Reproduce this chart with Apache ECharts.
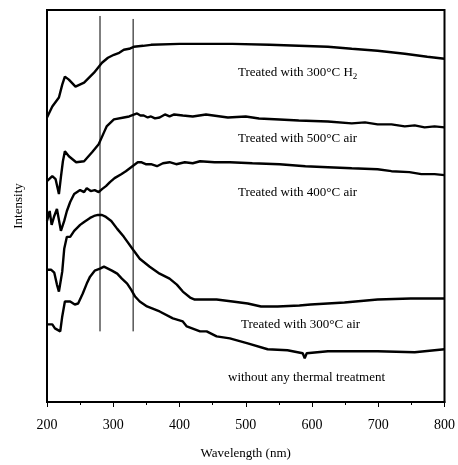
<!DOCTYPE html>
<html>
<head>
<meta charset="utf-8">
<script src="https://cdn.jsdelivr.net/npm/echarts@6/dist/echarts.min.js"></script>
<style>
html,body{margin:0;padding:0;background:#fff;}
#c{width:458px;height:465px;}
</style>
</head>
<body>
<div id="c"></div>
<script>
// Wavelength (nm) vs intensity (arbitrary units, offset stacked curves)
const xTicks = [200, 300, 400, 500, 600, 700, 800];

const h2_300 = [[200,286],[208,297],[218,306],[223,319],[227,327],[233,324],[243,317],[256,321],[271,331],[283,341],[292,346],[301,349],[309,351],[316,354],[324,355],[331,357],[345,358],[357,359],[400,360],[430,360],[480,360],[536,359],[580,358],[624,357],[660,355],[699,353],[740,350],[774,347],[800,345]];

const air_500 = [[200,222],[208,227],[213,224],[218,209],[221,226],[224,242],[227,252],[233,247],[244,241],[256,242],[268,251],[278,259],[286,271],[290,277],[301,284],[316,286],[324,287],[336,290],[341,288],[346,288],[352,286],[357,287],[363,285],[370,286],[378,289],[385,287],[392,289],[405,288],[420,287],[440,289],[473,286],[500,287],[520,285],[551,284],[580,283],[624,282],[660,280],[680,281],[699,279],[720,279],[740,277],[755,278],[770,276],[785,277],[800,276]];

const air_400 = [[200,182],[204,192],[207,178],[211,187],[215,194],[221,172],[226,182],[230,192],[235,201],[241,209],[250,213],[256,211],[260,215],[266,212],[272,213],[278,211],[283,214],[289,217],[295,221],[302,225],[312,229],[319,232],[325,235],[331,238],[337,241],[342,241],[349,239],[357,239],[366,237],[375,240],[385,241],[395,239],[408,241],[420,240],[431,242],[453,241],[476,241],[510,240],[551,239],[590,237],[624,236],[660,235],[699,234],[720,232],[747,231],[765,229],[785,229],[800,228]];

const air_300 = [[200,133],[206,133],[211,130],[215,118],[218,111],[223,131],[226,154],[230,166],[235,166],[241,172],[250,178],[256,181],[265,185],[271,187],[277,188],[283,188],[289,186],[297,182],[306,174],[316,166],[330,153],[340,144],[355,136],[370,129],[385,124],[396,118],[405,111],[416,105],[423,103],[438,103],[456,103],[480,101],[503,99],[523,96],[548,96],[581,97],[598,98],[649,100],[699,103],[749,104],[800,104]];

const untreated = [[200,78],[208,78],[212,74],[215,75],[220,71],[223,86],[227,101],[235,101],[242,98],[247,99],[254,109],[260,119],[265,126],[272,132],[280,134],[286,136],[292,134],[298,132],[306,129],[313,124],[321,119],[327,113],[333,106],[340,101],[351,96],[370,91],[390,84],[405,81],[411,76],[431,71],[441,71],[456,66],[476,64],[503,59],[533,53],[563,52],[586,49],[589,44],[592,49],[624,51],[699,51],[755,50],[800,53]];

// vertical reference lines: wavelength, top and bottom (intensity units), label text
const refLines = [
  {x: 280, top: 388, bottom: 71, label: '270'},
  {x: 330, top: 385, bottom: 71, label: '330'}
];

const curveLabels = [
  {text: 'Treated with 300°C H{s|2}', left: 238, top: 66},
  {text: 'Treated with 500°C air', left: 238, top: 132},
  {text: 'Treated with 400°C air', left: 238, top: 186},
  {text: 'Treated with 300°C air', left: 241, top: 318},
  {text: 'without any thermal treatment', left: 228, top: 371}
];

const FONT = '"Liberation Serif","DejaVu Serif",serif';
const chart = echarts.init(document.getElementById('c'), null, {renderer: 'canvas'});

function curve(name, data) {
  return {
    name: name, type: 'line', data: data, showSymbol: false, symbol: 'none',
    lineStyle: {color: '#000', width: 2.4}, animation: false, z: 3
  };
}

const series = [
  curve('H2 300', h2_300),
  curve('air 500', air_500),
  curve('air 400', air_400),
  curve('air 300', air_300),
  curve('untreated', untreated)
];

refLines.forEach((r, i) => {
  series.push({
    type: 'line', symbol: 'none', showSymbol: false, animation: false, z: 2,
    lineStyle: {color: '#000', width: 1},
    data: [
      [r.x, r.top],
      {value: [r.x, r.bottom], symbol: 'none',
       label: {show: true, position: 'bottom', distance: 8, formatter: r.label,
               offset: [i === 1 ? 4 : 0, 0],
               fontFamily: FONT, fontSize: 13, color: '#000'}}
    ]
  });
});

const option = {
  backgroundColor: '#fff',
  animation: false,
  grid: {left: 47, right: 13, top: 10, bottom: 61, show: true, borderColor: '#000', borderWidth: 2, backgroundColor: '#fff'},
  xAxis: {
    type: 'value', min: 200, max: 800, interval: 100,
    name: 'Wavelength (nm)', nameLocation: 'middle', nameGap: 45,
    nameTextStyle: {fontFamily: FONT, fontSize: 13, color: '#000'},
    axisLine: {show: true, lineStyle: {color: '#000', width: 2}},
    axisTick: {show: true, length: 5, lineStyle: {color: '#000', width: 1}},
    minorTick: {show: true, splitNumber: 2, length: 3, lineStyle: {color: '#000', width: 1}},
    axisLabel: {fontFamily: FONT, fontSize: 14, color: '#000', margin: 16,
      customValues: xTicks},
    splitLine: {show: false}
  },
  yAxis: {
    type: 'value', min: 0, max: 394,
    name: 'Intensity', nameLocation: 'middle', nameGap: 22,
    nameTextStyle: {fontFamily: FONT, fontSize: 13, color: '#000'},
    axisLine: {show: true, lineStyle: {color: '#000', width: 2}},
    axisTick: {show: false}, axisLabel: {show: false}, splitLine: {show: false}
  },
  graphic: curveLabels.map(l => ({
    type: 'text', left: l.left, top: l.top, z: 10,
    style: {text: l.text, font: '13px ' + FONT, fill: '#000',
      rich: {s: {fontSize: 9, fontFamily: FONT, verticalAlign: 'bottom', padding: [8,0,0,0]}}}
  })),
  series: series
};
chart.setOption(option);
</script>
</body>
</html>
